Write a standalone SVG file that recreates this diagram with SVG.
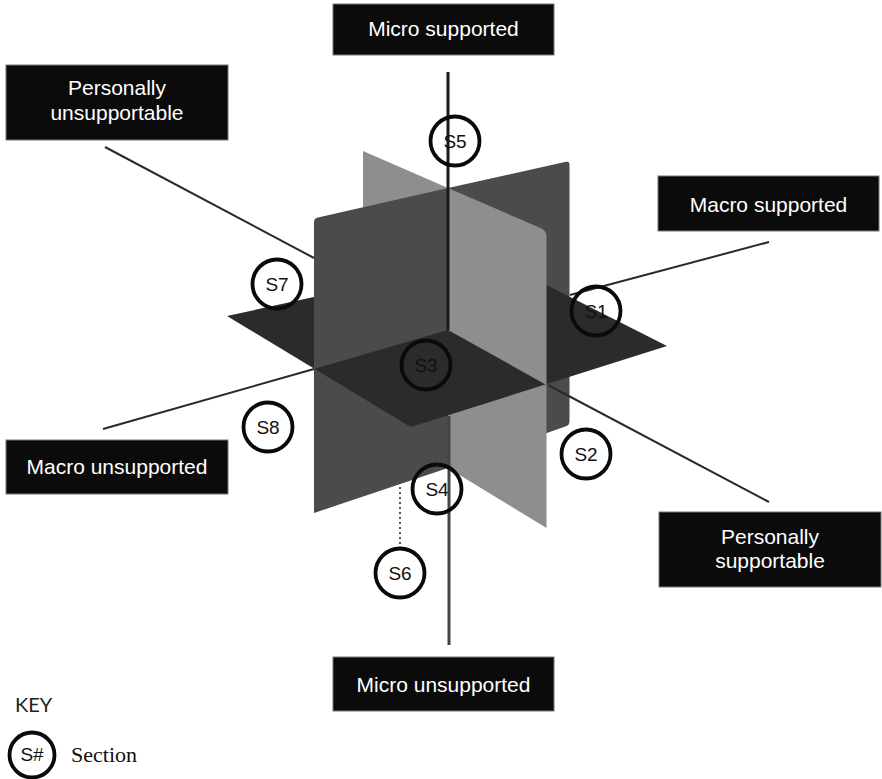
<svg xmlns="http://www.w3.org/2000/svg" width="882" height="779" viewBox="0 0 882 779">
<style>
.lbl rect{fill:#0b0b0b;stroke:#777;stroke-width:1}
.lbl text{fill:#fff;font-family:"Liberation Sans",Arial,sans-serif;font-size:21px;text-anchor:middle}
.sec circle{fill:none;stroke:#0a0a0a;stroke-width:3.8}
.sec text{fill:#111;font-family:"Liberation Sans",Arial,sans-serif;font-size:19px;text-anchor:middle}
.ax{stroke:#2a2a2a;stroke-width:2;fill:none}
.d{fill:#4b4b4b}
.l{fill:#8e8e8e}
.h{fill:#2b2b2b}
</style>
<rect width="882" height="779" fill="#fff"/>
<g id="planes">
  <path class="l" d="M363,151 L448,188 L448,330 L363,290 Z"/>
  <path class="d" d="M448,188 L566,161.8 Q569.5,161 569.5,164.5 L569.5,421.5 Q569.5,425 566,426.2 L448,468 Z"/>
  <path class="d" d="M314,369 L448,330 L448,468 L314,513 Z"/>
  <path class="l" d="M448,330 L546.5,385 L546.5,528 L448,468 Z"/>
  <path class="h" d="M227,316 L493,258 L667,346 L414,426 Q411,427.5 409,426 Z"/>
  <path class="d" d="M314,222 Q314,218.5 318,217.6 L448,188 L448,330 L314,369 Z"/>
  <path class="l" d="M448,188 L540.5,228 Q546.5,230.8 546.5,236.5 L546.5,385 L448,330 Z"/>
</g>
<g id="connectors">
  <line class="ax" x1="105" y1="147" x2="314" y2="258"/>
  <line class="ax" x1="548" y1="385" x2="769" y2="502"/>
  <line class="ax" x1="103" y1="429" x2="314" y2="369"/>
  <line class="ax" x1="570" y1="295" x2="769" y2="242"/>
  <line x1="448" y1="72" x2="448" y2="330" stroke="#1a1a1a" stroke-width="3"/>
  <line x1="449" y1="416" x2="449" y2="645" stroke="#444" stroke-width="3"/>
  <line x1="400" y1="487" x2="400" y2="547" stroke="#555" stroke-width="2" stroke-dasharray="2 3"/>
</g>
<g id="label-micro-supported" class="lbl"><rect x="333" y="4" width="221" height="51"/><text x="443.5" y="36">Micro supported</text></g>
<g id="label-personally-unsupportable" class="lbl"><rect x="6" y="65" width="222" height="75"/><text x="117" y="95">Personally</text><text x="117" y="120">unsupportable</text></g>
<g id="label-macro-supported" class="lbl"><rect x="658" y="176" width="221" height="55"/><text x="768.5" y="212">Macro supported</text></g>
<g id="label-macro-unsupported" class="lbl"><rect x="6" y="440" width="222" height="54"/><text x="117" y="474">Macro unsupported</text></g>
<g id="label-personally-supportable" class="lbl"><rect x="659" y="512" width="222" height="75"/><text x="770" y="544">Personally</text><text x="770" y="568">supportable</text></g>
<g id="label-micro-unsupported" class="lbl"><rect x="333" y="657" width="221" height="54"/><text x="443.5" y="692">Micro unsupported</text></g>
<g id="s5" class="sec"><circle cx="455" cy="141" r="24.5"/><text x="455" y="148">S5</text></g>
<g id="s7" class="sec"><circle cx="277" cy="284" r="24.5"/><text x="277" y="291">S7</text></g>
<g id="s1" class="sec"><circle cx="596" cy="311" r="24.5"/><text x="596" y="318">S1</text></g>
<g id="s3" class="sec"><circle cx="426" cy="365" r="24.5"/><text x="426" y="372">S3</text></g>
<g id="s8" class="sec"><circle cx="268" cy="427" r="24.5"/><text x="268" y="434">S8</text></g>
<g id="s2" class="sec"><circle cx="586" cy="454" r="24.5"/><text x="586" y="461">S2</text></g>
<g id="s4" class="sec"><circle cx="437" cy="489" r="24.5"/><text x="437" y="496">S4</text></g>
<g id="s6" class="sec"><circle cx="400" cy="573" r="24.5"/><text x="400" y="580">S6</text></g>
<g id="key">
  <text x="15" y="712" font-family="Lato,'Open Sans',sans-serif" font-size="20" fill="#222">KEY</text>
  <g class="sec"><circle cx="32" cy="755" r="22.5"/><text x="32" y="761" font-size="17">S#</text></g>
  <text x="71" y="762" font-family="'Liberation Serif','Times New Roman',serif" font-size="22" fill="#111">Section</text>
</g>
</svg>
